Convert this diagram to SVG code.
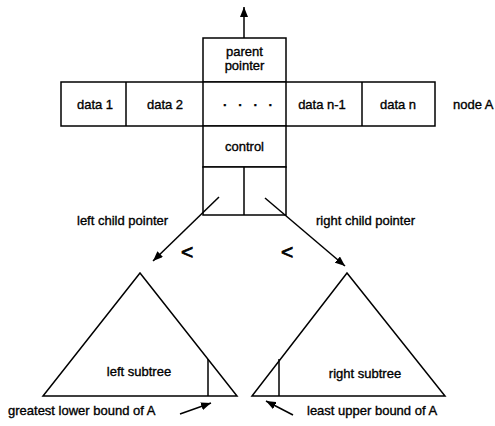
<svg xmlns="http://www.w3.org/2000/svg" width="495" height="426" viewBox="0 0 495 426">
<defs>
<marker id="ah" viewBox="0 0 10 8" refX="10" refY="4" markerWidth="10" markerHeight="8" markerUnits="userSpaceOnUse" orient="auto">
<path d="M0,0 L10,4 L0,8 Z" fill="#000"/>
</marker>
</defs>
<style>
.box{fill:#fff;stroke:#000;stroke-width:1.5}
.ln{fill:none;stroke:#000;stroke-width:1.5}
.cn{fill:none;stroke:#000;stroke-width:1.5;marker-end:url(#ah)}
text{font-family:"Liberation Sans",Arial,sans-serif;font-size:13px;fill:#000;stroke:#000;stroke-width:0.35}
.c{text-anchor:middle}
.lt{font-size:21px;stroke-width:0.8}
.dots{font-weight:bold}
</style>
<rect width="495" height="426" fill="#fff"/>
<g id="parent-pointer">
<rect class="box" x="203" y="38" width="83" height="44"/>
<text class="c" x="244.5" y="56">parent</text>
<text class="c" x="244.5" y="70">pointer</text>
</g>
<g id="node-A">
<rect class="box" x="61" y="82" width="374" height="44"/>
<line class="ln" x1="126" y1="82" x2="126" y2="126"/>
<line class="ln" x1="203" y1="82" x2="203" y2="126"/>
<line class="ln" x1="286" y1="82" x2="286" y2="126"/>
<line class="ln" x1="362" y1="82" x2="362" y2="126"/>
<text class="c" x="95" y="109">data 1</text>
<text class="c" x="165" y="109">data 2</text>
<text class="c dots" x="248" y="109" xml:space="preserve">·   ·   ·   ·</text>
<text class="c" x="322" y="109">data n-1</text>
<text class="c" x="398" y="109">data n</text>
<text x="453" y="109">node A</text>
</g>
<g id="control">
<rect class="box" x="203" y="126" width="83" height="41"/>
<text class="c" x="244.5" y="151">control</text>
</g>
<g id="child-pointers">
<rect class="box" x="203" y="167" width="83" height="48"/>
<line class="ln" x1="244" y1="167" x2="244" y2="215"/>
</g>
<g id="left-subtree">
<path class="ln" d="M140,273 L43,396 L237,396 Z"/>
<line class="ln" x1="208" y1="359" x2="208" y2="396"/>
<text class="c" x="139" y="376">left subtree</text>
</g>
<g id="right-subtree">
<path class="ln" d="M347,273 L252,396 L445,396 Z"/>
<line class="ln" x1="279" y1="359" x2="279" y2="396"/>
<text class="c" x="365" y="378">right subtree</text>
</g>
<g id="connectors">
<line class="cn" x1="244" y1="38" x2="244" y2="7"/>
<line class="cn" x1="219" y1="197" x2="153" y2="261"/>
<line class="cn" x1="265" y1="198" x2="345" y2="266"/>
<line class="cn" x1="180" y1="414" x2="211" y2="403"/>
<line class="cn" x1="293" y1="415" x2="266" y2="401"/>
</g>
<g id="labels">
<text x="77" y="225">left child pointer</text>
<text x="316" y="225">right child pointer</text>
<text class="lt" x="181" y="259">&lt;</text>
<text class="lt" x="281" y="259">&lt;</text>
<text x="8" y="415">greatest lower bound of A</text>
<text x="307" y="415">least upper bound of A</text>
</g>
</svg>
